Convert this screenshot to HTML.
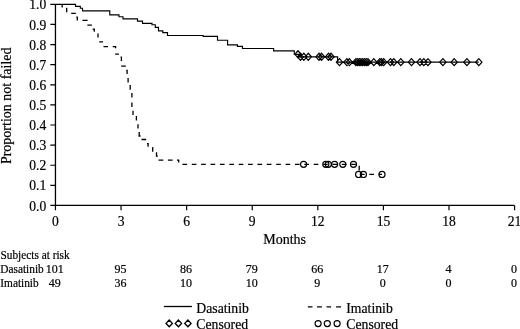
<!DOCTYPE html>
<html><head><meta charset="utf-8"><style>
html,body{margin:0;padding:0;background:#fff;}
body{width:520px;height:329px;overflow:hidden;}
svg{display:block;filter:grayscale(1) blur(0.25px);}
text{font-family:"Liberation Serif",serif;fill:#000;stroke:#000;stroke-width:0.2px;}
</style></head><body>
<svg width="520" height="329" viewBox="0 0 520 329">
<rect width="520" height="329" fill="#fff"/>
<path d="M55.45,4.33 V205.45 H514.6000000000001" fill="none" stroke="#000" stroke-width="1.3"/>
<path d="M50.3,205.45 H55.45 M50.3,185.34 H55.45 M50.3,165.23 H55.45 M50.3,145.11 H55.45 M50.3,125.00 H55.45 M50.3,104.89 H55.45 M50.3,84.78 H55.45 M50.3,64.67 H55.45 M50.3,44.55 H55.45 M50.3,24.44 H55.45 M50.3,4.33 H55.45 M55.45,205.45 V210.3 M121.04,205.45 V210.3 M186.64,205.45 V210.3 M252.23,205.45 V210.3 M317.82,205.45 V210.3 M383.41,205.45 V210.3 M449.01,205.45 V210.3 M514.60,205.45 V210.3" fill="none" stroke="#000" stroke-width="1.2"/>
<text transform="translate(46.30,210.55) scale(0.97,1)" font-size="14" text-anchor="end">0.0</text>
<text transform="translate(46.30,190.44) scale(0.97,1)" font-size="14" text-anchor="end">0.1</text>
<text transform="translate(46.30,170.33) scale(0.97,1)" font-size="14" text-anchor="end">0.2</text>
<text transform="translate(46.30,150.21) scale(0.97,1)" font-size="14" text-anchor="end">0.3</text>
<text transform="translate(46.30,130.10) scale(0.97,1)" font-size="14" text-anchor="end">0.4</text>
<text transform="translate(46.30,109.99) scale(0.97,1)" font-size="14" text-anchor="end">0.5</text>
<text transform="translate(46.30,89.88) scale(0.97,1)" font-size="14" text-anchor="end">0.6</text>
<text transform="translate(46.30,69.77) scale(0.97,1)" font-size="14" text-anchor="end">0.7</text>
<text transform="translate(46.30,49.65) scale(0.97,1)" font-size="14" text-anchor="end">0.8</text>
<text transform="translate(46.30,29.54) scale(0.97,1)" font-size="14" text-anchor="end">0.9</text>
<text transform="translate(46.30,8.73) scale(0.97,1)" font-size="14" text-anchor="end">1.0</text>
<text transform="translate(55.45,225.70) scale(0.97,1)" font-size="14" text-anchor="middle">0</text>
<text transform="translate(121.04,225.70) scale(0.97,1)" font-size="14" text-anchor="middle">3</text>
<text transform="translate(186.64,225.70) scale(0.97,1)" font-size="14" text-anchor="middle">6</text>
<text transform="translate(252.23,225.70) scale(0.97,1)" font-size="14" text-anchor="middle">9</text>
<text transform="translate(317.82,225.70) scale(0.97,1)" font-size="14" text-anchor="middle">12</text>
<text transform="translate(383.41,225.70) scale(0.97,1)" font-size="14" text-anchor="middle">15</text>
<text transform="translate(449.01,225.70) scale(0.97,1)" font-size="14" text-anchor="middle">18</text>
<text transform="translate(514.60,225.70) scale(0.97,1)" font-size="14" text-anchor="middle">21</text>
<text transform="translate(263.20,243.70)" font-size="14">Months</text>
<text transform="translate(11.4,164.1) rotate(-90)" font-size="14">Proportion not failed</text>
<path d="M55.45,4.33 H75.5 V6.3 H80.3 V8.2 H82.5 V10.9 H109.8 V14.8 H119 V16.7 H123 V18.9 H137.5 V21.1 H142.5 V23.3 H152 V24.7 H155.3 V27.4 H158.5 V30.8 H162.8 V32.6 H167.5 V35.45 H203.2 V36.4 H217.5 V40.2 H227.6 V44.8 H237.4 V46.4 H242.5 V48.5 H273.6 V50.9 H294.3 V54.3 H299.5 V56.8 H337.6 V62.05 H478.8" fill="none" stroke="#000" stroke-width="1.15"/>
<path d="M294.85,54.30 L298.00,50.75 L301.15,54.30 L298.00,57.85 Z M297.35,56.80 L300.50,53.25 L303.65,56.80 L300.50,60.35 Z M300.65,56.80 L303.80,53.25 L306.95,56.80 L303.80,60.35 Z M305.15,56.80 L308.30,53.25 L311.45,56.80 L308.30,60.35 Z M315.85,56.80 L319.00,53.25 L322.15,56.80 L319.00,60.35 Z M318.35,56.80 L321.50,53.25 L324.65,56.80 L321.50,60.35 Z M325.35,56.80 L328.50,53.25 L331.65,56.80 L328.50,60.35 Z M327.85,56.80 L331.00,53.25 L334.15,56.80 L331.00,60.35 Z M336.35,62.15 L339.50,58.60 L342.65,62.15 L339.50,65.70 Z M343.75,62.15 L346.90,58.60 L350.05,62.15 L346.90,65.70 Z M346.25,62.15 L349.40,58.60 L352.55,62.15 L349.40,65.70 Z M352.75,62.15 L355.90,58.60 L359.05,62.15 L355.90,65.70 Z M354.45,62.15 L357.60,58.60 L360.75,62.15 L357.60,65.70 Z M356.25,62.15 L359.40,58.60 L362.55,62.15 L359.40,65.70 Z M357.85,62.15 L361.00,58.60 L364.15,62.15 L361.00,65.70 Z M359.55,62.15 L362.70,58.60 L365.85,62.15 L362.70,65.70 Z M361.45,62.15 L364.60,58.60 L367.75,62.15 L364.60,65.70 Z M363.15,62.15 L366.30,58.60 L369.45,62.15 L366.30,65.70 Z M364.85,62.15 L368.00,58.60 L371.15,62.15 L368.00,65.70 Z M370.65,62.15 L373.80,58.60 L376.95,62.15 L373.80,65.70 Z M376.65,62.15 L379.80,58.60 L382.95,62.15 L379.80,65.70 Z M378.35,62.15 L381.50,58.60 L384.65,62.15 L381.50,65.70 Z M380.55,62.15 L383.70,58.60 L386.85,62.15 L383.70,65.70 Z M387.35,62.15 L390.50,58.60 L393.65,62.15 L390.50,65.70 Z M390.65,62.15 L393.80,58.60 L396.95,62.15 L393.80,65.70 Z M397.65,62.15 L400.80,58.60 L403.95,62.15 L400.80,65.70 Z M408.35,62.15 L411.50,58.60 L414.65,62.15 L411.50,65.70 Z M416.85,62.15 L420.00,58.60 L423.15,62.15 L420.00,65.70 Z M420.65,62.15 L423.80,58.60 L426.95,62.15 L423.80,65.70 Z M424.85,62.15 L428.00,58.60 L431.15,62.15 L428.00,65.70 Z M439.75,62.15 L442.90,58.60 L446.05,62.15 L442.90,65.70 Z M451.05,62.15 L454.20,58.60 L457.35,62.15 L454.20,65.70 Z M463.75,62.15 L466.90,58.60 L470.05,62.15 L466.90,65.70 Z M475.65,62.15 L478.80,58.60 L481.95,62.15 L478.80,65.70 Z" fill="none" stroke="#000" stroke-width="1.2"/>
<path d="M62.2,4.4 V7.4 M66.0,8.4 H66.7 V12.3 M71.2,13.3 H75.8 M76.3,17.1 H77.3 V20.5 M82.4,20.4 H87.6 M87.4,25.1 H91.9 M92.6,29.2 H94.3 V31.7 M98,33.4 V37.4 M99.2,41.8 H103 M103.5,46.7 H108 M112.7,46.7 H115.6 V48.3 M115.2,54.1 H118.9 M120.6,57.1 H121.4 V61.1 M121.2,66.1 H125.8 M126.2,70.4 H127.1 V73.9 M128.1,78 V82.5 M130.2,84.9 V89.8 M131.9,92.9 V97.5 M131.9,102.4 V107 M133,110.7 V115 M136.4,116.1 V120.4 M138,124.2 V128.6 M139.2,132 V136 H140.6 M141.5,139.5 H146.2 M147,143.6 H148.1 V146.7 M152.3,147.6 H152.7 V151.7 M156.5,152.2 V156.2 H157.9 M158.5,160.15 H163.3 M167.9,160.15 H172.6 M177.0,160.15 H178.7 V162.6" fill="none" stroke="#000" stroke-width="1.3"/>
<path d="M182.3,164.35 H359.2 V174.4 H382" fill="none" stroke="#000" stroke-width="1.3" stroke-dasharray="4.65 4.73" stroke-dashoffset="-0.1"/>
<circle cx="303.6" cy="164.35" r="3.05" fill="none" stroke="#000" stroke-width="1.15"/><circle cx="325.8" cy="164.35" r="3.05" fill="none" stroke="#000" stroke-width="1.15"/><circle cx="328.3" cy="164.35" r="3.05" fill="none" stroke="#000" stroke-width="1.15"/><circle cx="334.6" cy="164.35" r="3.05" fill="none" stroke="#000" stroke-width="1.15"/><circle cx="342.8" cy="164.35" r="3.05" fill="none" stroke="#000" stroke-width="1.15"/><circle cx="353.5" cy="164.35" r="3.05" fill="none" stroke="#000" stroke-width="1.15"/><circle cx="358.6" cy="174.4" r="3.05" fill="none" stroke="#000" stroke-width="1.15"/><circle cx="363.4" cy="174.4" r="3.05" fill="none" stroke="#000" stroke-width="1.15"/><circle cx="382.0" cy="174.4" r="3.05" fill="none" stroke="#000" stroke-width="1.15"/>
<text transform="translate(0.50,258.70) scale(0.945,1)" font-size="12">Subjects at risk</text>
<text transform="translate(0.30,272.70) scale(0.945,1)" font-size="12">Dasatinib</text>
<text transform="translate(0.30,286.90) scale(0.945,1)" font-size="12">Imatinib</text>
<text transform="translate(54.85,272.80)" font-size="12" text-anchor="middle">101</text>
<text transform="translate(54.85,286.90)" font-size="12" text-anchor="middle">49</text>
<text transform="translate(120.44,272.80)" font-size="12" text-anchor="middle">95</text>
<text transform="translate(120.44,286.90)" font-size="12" text-anchor="middle">36</text>
<text transform="translate(186.04,272.80)" font-size="12" text-anchor="middle">86</text>
<text transform="translate(186.04,286.90)" font-size="12" text-anchor="middle">10</text>
<text transform="translate(251.63,272.80)" font-size="12" text-anchor="middle">79</text>
<text transform="translate(251.63,286.90)" font-size="12" text-anchor="middle">10</text>
<text transform="translate(317.22,272.80)" font-size="12" text-anchor="middle">66</text>
<text transform="translate(317.22,286.90)" font-size="12" text-anchor="middle">9</text>
<text transform="translate(382.81,272.80)" font-size="12" text-anchor="middle">17</text>
<text transform="translate(382.81,286.90)" font-size="12" text-anchor="middle">0</text>
<text transform="translate(448.41,272.80)" font-size="12" text-anchor="middle">4</text>
<text transform="translate(448.41,286.90)" font-size="12" text-anchor="middle">0</text>
<text transform="translate(514.00,272.80)" font-size="12" text-anchor="middle">0</text>
<text transform="translate(514.00,286.90)" font-size="12" text-anchor="middle">0</text>
<path d="M163.8,306.5 H191.9" stroke="#000" stroke-width="1.3"/>
<text transform="translate(196.30,313.00) scale(0.995,1)" font-size="13.8">Dasatinib</text>
<text transform="translate(196.30,329.00) scale(0.995,1)" font-size="13.8">Censored</text>
<path d="M166.05,323.4 L169.20,320.1 L172.35,323.4 L169.20,326.7 Z M175.25,323.4 L178.40,320.1 L181.55,323.4 L178.40,326.7 Z M184.75,323.4 L187.90,320.1 L191.05,323.4 L187.90,326.7 Z" fill="none" stroke="#000" stroke-width="1.35"/>
<path d="M307.8,306.8 H312.5 M317.1,306.8 H321.9 M326.6,306.8 H331.1 M336.1,306.8 H341" stroke="#000" stroke-width="1.3"/>
<text transform="translate(346.30,313.00) scale(0.995,1)" font-size="13.8">Imatinib</text>
<text transform="translate(346.30,329.00) scale(0.995,1)" font-size="13.8">Censored</text>
<circle cx="318.1" cy="323.6" r="3.05" fill="none" stroke="#000" stroke-width="1.15"/><circle cx="327.3" cy="323.6" r="3.05" fill="none" stroke="#000" stroke-width="1.15"/><circle cx="337.1" cy="323.6" r="3.05" fill="none" stroke="#000" stroke-width="1.15"/>
</svg>
</body></html>
